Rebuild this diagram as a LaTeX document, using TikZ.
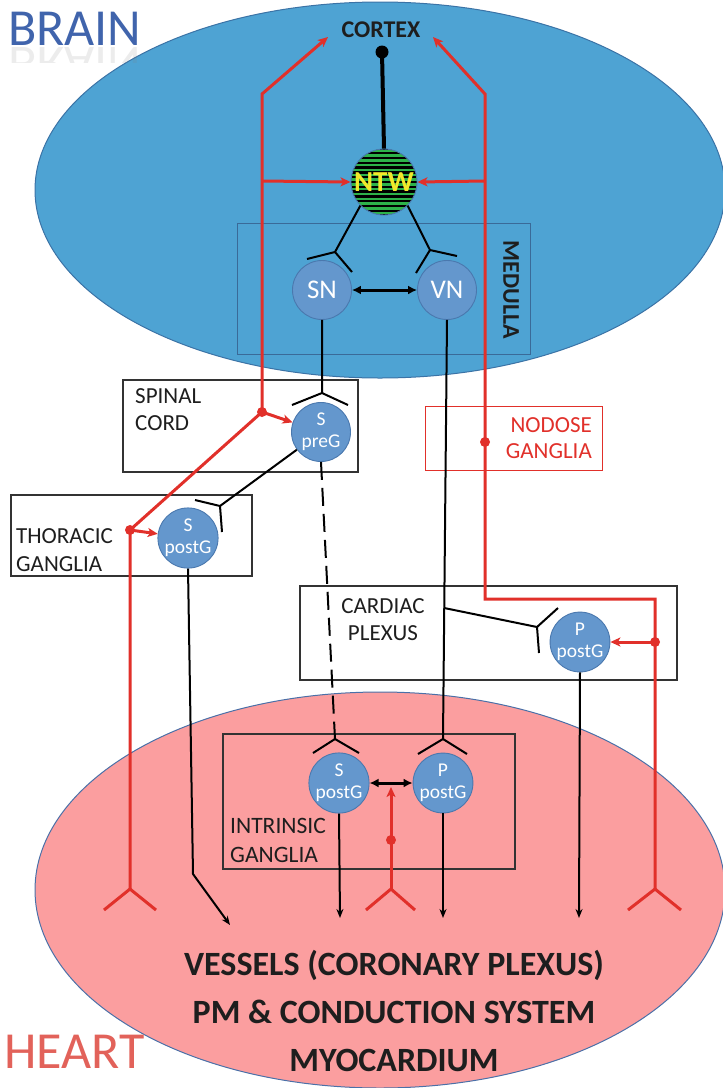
\documentclass[tikz,border=0pt]{standalone}
\usepackage{fontspec}
\setmainfont{Carlito}
\usetikzlibrary{arrows.meta}

\definecolor{brainfill}{HTML}{4EA3D3}
\definecolor{brainedge}{HTML}{3B73A6}
\definecolor{heartfill}{HTML}{FB9E9F}
\definecolor{heartedge}{HTML}{4A70A8}
\definecolor{neuronfill}{HTML}{6497CD}
\definecolor{neuronedge}{HTML}{4A78AE}
\definecolor{nerve}{HTML}{E1302A}
\definecolor{ntwgreen}{HTML}{2DB24A}
\definecolor{ntwtext}{HTML}{F2E82A}
\definecolor{brainblue}{HTML}{4064AC}
\definecolor{heartred}{HTML}{E2625A}
\definecolor{boxline}{HTML}{333333}
\definecolor{medullaline}{HTML}{3A6A98}
\definecolor{labeltext}{HTML}{1E1E1E}

\newcommand\fsz[2]{\fontsize{#1}{#2}\selectfont}

\begin{document}
\begin{tikzpicture}[x=1pt,y=-1pt,
  neuron/.style={circle, draw=neuronedge, line width=0.9pt, fill=neuronfill,
    minimum size=59pt, inner sep=0pt, text=white, align=center,
    font=\fsz{19.5}{22}},
  bignucleus/.style={neuron, font=\fsz{27}{30}},
  region/.style={draw=boxline, line width=1.3pt, inner sep=0pt},
  boxlabel/.style={inner sep=0pt, text=labeltext, font=\fsz{23}{27}},
  axon/.style={draw=black, line width=2pt},
  heavy/.style={draw=black, line width=3pt},
  nerveline/.style={draw=nerve, line width=3pt},
  downtip/.style={-{Stealth[length=9pt,width=7pt]}},
  redtip/.style={-{Stealth[length=10pt,width=9pt,inset=2.5pt]}},
  bothtip/.style={{Latex[length=9pt,width=9pt]}-{Latex[length=9pt,width=9pt]}},
  dot/.style={fill=nerve}
]
\useasboundingbox (0,0) rectangle (723,1088);

% ---------- organs ----------
\path[fill=brainfill, draw=brainedge, line width=1pt]
  (380,190) ellipse [x radius=345pt, y radius=188pt];
\path[fill=heartfill, draw=heartedge, line width=1pt]
  (380,890) ellipse [x radius=345pt, y radius=198pt];

% organ titles with their faint mirror images
\node[anchor=base west, inner sep=0pt, text=brainblue, font=\fsz{52}{60}] (brainTitle) at (8,45) {BRAIN};
\begin{scope}
  \clip (0,46) rectangle (170,62);
  \begin{scope}[shift={(8,47)}, yscale=-1]
    \node[transform shape, anchor=base west, inner sep=0pt, text=gray, opacity=0.15, font=\fsz{52}{60}] (brainMirror) at (0,0) {BRAIN};
  \end{scope}
\end{scope}
\node[anchor=base west, inner sep=0pt, text=heartred, font=\fsz{52}{60}] (heartTitle) at (4,1068) {HEART};

% ---------- regions ----------
\node[draw=medullaline, line width=1pt, minimum width=293pt, minimum height=131pt, inner sep=0pt] (medulla) at (383.5,288.5) {};
\node[region, minimum width=235pt, minimum height=92pt] (spinal) at (240.5,426) {};
\node[region, minimum width=241pt, minimum height=81pt] (thoracic) at (131.5,535.5) {};
\node[draw=nerve, line width=1pt, minimum width=177pt, minimum height=64pt, inner sep=0pt] (nodose) at (513.5,438) {};
\node[region, minimum width=377pt, minimum height=94pt] (cardiac) at (488.5,633) {};
\node[region, minimum width=292pt, minimum height=135pt] (intrinsic) at (369,801.5) {};

% region labels
\node[rotate=-90, inner sep=0pt, text=labeltext, font=\bfseries\fsz{24}{28}] (medullaLabel) at (511,290) {MEDULLA};
\node[boxlabel, anchor=north west, align=left] (spinalLabel) at (135,388.5) {SPINAL\\CORD};
\node[boxlabel, anchor=north west, align=left, font=\fsz{23}{28}] (thoracicLabel) at (16,528.5) {THORACIC\\GANGLIA};
\node[boxlabel, anchor=north east, align=right, text=nerve, font=\fsz{23}{26}] (nodoseLabel) at (592,417.5) {NODOSE\\GANGLIA};
\node[boxlabel, anchor=north, align=center] (cardiacLabel) at (383,598.5) {CARDIAC\\PLEXUS};
\node[boxlabel, anchor=north west, align=left, font=\fsz{23.5}{29}] (intrinsicLabel) at (230,818.5) {INTRINSIC\\GANGLIA};

\node[anchor=base, inner sep=0pt, text=labeltext, font=\bfseries\fsz{24}{28}] (cortex) at (381,37) {CORTEX};
\node[anchor=north, inner sep=0pt, align=center, text=labeltext, font=\bfseries\fsz{34}{48}] (targets) at (394,950)
  {VESSELS (CORONARY PLEXUS)\\PM \& CONDUCTION SYSTEM\\MYOCARDIUM};

% ---------- junction points ----------
\coordinate (cortexDot) at (382,52);
\coordinate (fSN) at (335,252);  \coordinate (aSN1) at (307,259); \coordinate (aSN2) at (352,272);
\coordinate (fVN) at (430,250);  \coordinate (aVN1) at (457,256); \coordinate (aVN2) at (416,273);
\coordinate (fSp) at (322,393);  \coordinate (aSp1) at (292,405); \coordinate (aSp2) at (348,405);
\coordinate (fSt) at (220,506);  \coordinate (aSt1) at (195,500); \coordinate (aSt2) at (222,532);
\coordinate (fSI) at (335,739);  \coordinate (aSI1) at (313,753); \coordinate (aSI2) at (359,753);
\coordinate (fPI) at (443,739);  \coordinate (aPI1) at (418,754); \coordinate (aPI2) at (467,754);
\coordinate (jVN) at (444.2,608);
\coordinate (fPC) at (537,627);  \coordinate (aPC1) at (558,608); \coordinate (aPC2) at (539,653);
\coordinate (stBend) at (193,874); \coordinate (stEnd) at (230,925);
\coordinate (siEnd) at (340,918);
\coordinate (piEnd) at (443,918);
\coordinate (pcEnd) at (579,918);

\coordinate (cortexL) at (328,37);  \coordinate (cortexR) at (433,37);
\coordinate (lTop) at (262,94);  \coordinate (lMid) at (262,181);
\coordinate (lDot) at (262,412); \coordinate (lDot2) at (130,530);
\coordinate (lFork) at (130,889); \coordinate (lArm1) at (104,910); \coordinate (lArm2) at (156,910);
\coordinate (rTop) at (485,94);  \coordinate (rMid) at (485,181);
\coordinate (rDot) at (485,442); \coordinate (rBend) at (485,599);
\coordinate (rBend2) at (655,599); \coordinate (rDot2) at (655,642);
\coordinate (rFork) at (655,889); \coordinate (rArm1) at (628,910); \coordinate (rArm2) at (681,910);
\coordinate (cFork) at (391,889); \coordinate (cArm1) at (366,910); \coordinate (cArm2) at (415,910);
\coordinate (cDot) at (391,840);  \coordinate (cTip) at (391,787);

% ---------- neurons ----------
\node[circle, draw=neuronedge, line width=0.9pt, fill=ntwgreen, minimum size=66pt, inner sep=0pt,
  path picture={
    \coordinate (pc) at (path picture bounding box.center);
    \foreach \k in {-7,...,7}
      \draw[black, line width=2.3pt] ([shift={(-40,\k*4.8)}]pc) -- ++(80,0);
  },
  text=ntwtext, font=\bfseries\fsz{29}{32}] (NTW) at (384,182) {NTW};
\node[bignucleus] (SN) at (322,290) {SN};
\node[bignucleus] (VN) at (447,290) {VN};
\node[neuron] (SpreG) at (321,432) {S\\preG};
\node[neuron] (STpost) at (188,538) {S\\postG};
\node[neuron] (SIpost) at (339,783) {S\\postG};
\node[neuron] (PIpost) at (443,783) {P\\postG};
\node[neuron] (PCpost) at (580,642) {P\\postG};

% ---------- efferent (black) pathways ----------
\draw[heavy, line width=4pt] (NTW.north) -- (cortexDot);
\fill (cortexDot) circle (6.5pt);

\draw[axon] (NTW.225) -- (fSN) (aSN1) -- (fSN) -- (aSN2);
\draw[axon] (NTW.-45) -- (fVN) (aVN1) -- (fVN) -- (aVN2);
\draw[heavy, bothtip] (SN) -- (VN);

\draw[axon] (SN.south) -- (fSp) (aSp1) -- (fSp) -- (aSp2);
\draw[axon] (SpreG) -- (fSt) (aSt1) -- (fSt) -- (aSt2);
\draw[axon, dash pattern=on 18pt off 8pt] (SpreG.south) -- (fSI);
\draw[axon] (aSI1) -- (fSI) -- (aSI2);

\draw[axon] (VN.south) -- (fPI) (aPI1) -- (fPI) -- (aPI2);
\draw[axon] (jVN) -- (fPC) (aPC1) -- (fPC) -- (aPC2);

\draw[heavy, bothtip] (SIpost) -- (PIpost);

\draw[axon, downtip] (STpost.south) -- (stBend) -- (stEnd);
\draw[axon, downtip] (SIpost.south) -- (siEnd);
\draw[axon, downtip] (PIpost.south) -- (piEnd);
\draw[axon, downtip] (PCpost.south) -- (pcEnd);

% ---------- afferent (red) pathways ----------
\draw[nerveline, redtip] (lFork) -- (lDot2) -- (lDot) -- (lTop) -- (cortexL);
\draw[nerveline] (lArm1) -- (lFork) -- (lArm2);
\draw[nerveline, redtip] (lMid) -- (NTW.west);
\draw[nerveline, redtip] (lDot) -- (SpreG);
\draw[nerveline, redtip] (lDot2) -- (STpost);
\fill[dot] (lDot) circle (5pt);
\fill[dot] (lDot2) circle (5pt);

\draw[nerveline, redtip] (rFork) -- (rBend2) -- (rBend) -- (rTop) -- (cortexR);
\draw[nerveline] (rArm1) -- (rFork) -- (rArm2);
\draw[nerveline, redtip] (rMid) -- (NTW.east);
\draw[nerveline, redtip] (rDot2) -- (PCpost);
\fill[dot] (rDot) circle (5pt);
\fill[dot] (rDot2) circle (5pt);

\draw[nerveline, redtip] (cFork) -- (cTip);
\draw[nerveline] (cArm1) -- (cFork) -- (cArm2);
\fill[dot] (cDot) circle (5pt);

\end{tikzpicture}
\end{document}
